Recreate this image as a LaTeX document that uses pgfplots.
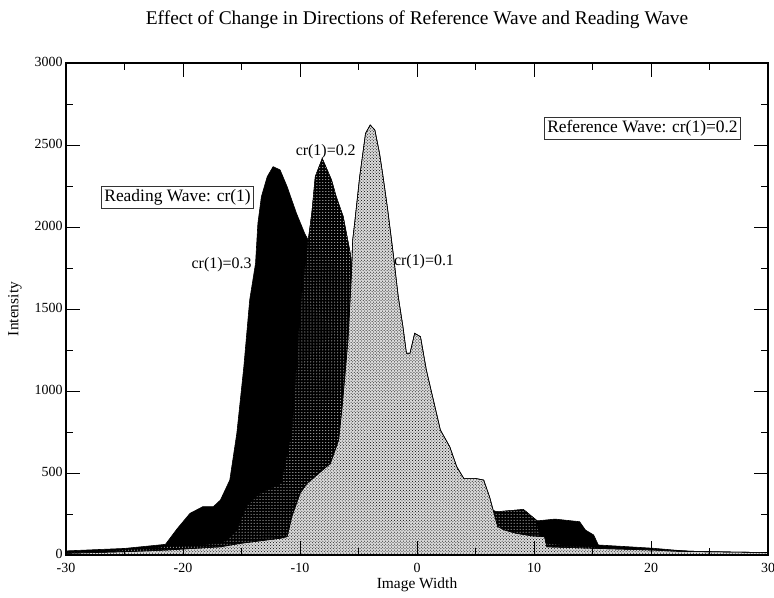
\documentclass[border=0pt]{standalone}
\usepackage{fontspec}
\setmainfont{Liberation Serif}
\usepackage{pgfplots}
\pgfplotsset{compat=1.18}
\usetikzlibrary{patterns}

\begin{document}
\begin{tikzpicture}
\begin{axis}[
  scale only axis, width=702bp, height=492bp,
  xmin=-30, xmax=30, ymin=0, ymax=3000,
  xtick={-30,-20,...,30}, minor xtick={-25,-15,...,25},
  ytick={0,500,...,3000}, minor ytick={250,750,...,2750},
  tick align=inside, major tick length=14bp, minor tick length=7bp,
  axis line style={line width=1.1pt},
  every tick/.style={black, line width=0.8pt},
  ticklabel style={font=\fontsize{14}{14}\selectfont},
  xticklabel style={yshift=-5bp},
  yticklabel style={yshift=1.5bp},
  /pgf/number format/assume math mode=true,
  /pgf/number format/1000 sep={},
  axis on top,
]
% cr(1)=0.3
\addplot[draw=black, line width=0.6pt, fill=black] coordinates {
(-30,25) (-25,40) (-21.5,65) (-20.5,160) (-19.4,254) (-18.3,295) (-17.4,295) (-16.8,335) (-16.0,457) (-15.4,742) (-14.8,1148) (-14.3,1555) (-13.8,1778) (-13.6,2022) (-13.3,2185) (-12.8,2307) (-12.3,2368) (-11.7,2348) (-11.1,2246) (-10.3,2083) (-9.6,1961) (-9.3,1920) (-8.5,1750) (-7,1400) (-5,1000) (-3,700) (0,450) (3,330) (6,250) (9,210) (10.4,209) (11.8,219) (13.9,203) (14.4,152) (15.1,122) (15.5,61) (17.9,51) (20.2,41) (23.6,20) (30,15)
} \closedcycle;
% cr(1)=0.2
\addplot[draw=black, line width=0.4pt, fill=black, postaction={pattern=dots, pattern color=white}] coordinates {
(-30,15) (-25,30) (-21.5,50) (-16.8,70) (-16.3,91) (-15.4,152) (-14.6,295) (-13.4,376) (-11.6,437) (-10.7,742) (-10.3,1148) (-9.9,1555) (-9.3,1920) (-9.0,2083) (-8.7,2307) (-8.1,2419) (-7.3,2287) (-6.9,2185) (-6.3,2063) (-5.7,1840) (-5.3,1600) (-4,1300) (-2,1000) (0,700) (2,500) (4,380) (5.5,300) (6.8,264) (9.1,278) (10.2,213) (10.5,112) (11,70) (13,60) (15.5,45) (20,32) (25,20) (30,12)
} \closedcycle;
% cr(1)=0.1
\addplot[draw=black, line width=0.6pt, fill=black!14, postaction={pattern=crosshatch dots, pattern color=black}] coordinates {
(-30,10) (-25,20) (-21.5,30) (-16.8,50) (-15.1,71) (-11.7,102) (-11.1,112) (-10.7,234) (-10.0,376) (-9.4,437) (-7.4,559) (-6.7,701) (-6.4,904) (-5.9,1311) (-5.6,1718) (-5.5,1920) (-5.3,2043) (-4.9,2307) (-4.4,2571) (-4.0,2622) (-3.6,2591) (-3.2,2449) (-2.9,2307) (-2.5,2104) (-2.0,1819) (-1.6,1575) (-1.2,1392) (-0.9,1230) (-0.6,1230) (-0.2,1352) (0.3,1331) (0.8,1128) (1.4,945) (2.0,762) (2.8,660) (3.4,538) (4.0,467) (5.0,467) (5.7,457) (6.2,355) (6.6,250) (6.9,173) (7.5,152) (8.5,132) (9.9,116) (10.9,112) (11.1,50) (15.5,40) (20.2,30) (22.5,22) (30,15)
} \closedcycle;

\node[font=\fontsize{16}{16}\selectfont] at (axis cs:-16.7,1768) {cr(1)=0.3};
\node[font=\fontsize{16}{16}\selectfont] at (axis cs:-7.8,2457) {cr(1)=0.2};
\node[font=\fontsize{16}{16}\selectfont] at (axis cs:0.6,1787) {cr(1)=0.1};
\node[draw=black!80, line width=0.8pt, fill=white, inner sep=3bp, font=\fontsize{17.5}{17.5}\selectfont] at (axis cs:-20.47,2183) {Reading Wave: cr(1)};
\node[draw=black!80, line width=0.8pt, fill=white, inner sep=3bp, font=\fontsize{17.5}{17.5}\selectfont] at (axis cs:19.27,2604) {Reference Wave: cr(1)=0.2};
\end{axis}
\path (current axis.north) ++(0,43bp) node[font=\fontsize{19.5}{19.5}\selectfont] {Effect of Change in Directions of Reference Wave and Reading Wave};
\path (current axis.south) ++(0,-30bp) node[font=\fontsize{15.5}{15.5}\selectfont] {Image Width};
\path (current axis.west) ++(-51bp,0) node[rotate=90, font=\fontsize{15.5}{15.5}\selectfont] {Intensity};
\pgfresetboundingbox
\path (current axis.south west) ++(-66bp,-43bp) rectangle ++(774bp,598bp);
\end{tikzpicture}
\end{document}
